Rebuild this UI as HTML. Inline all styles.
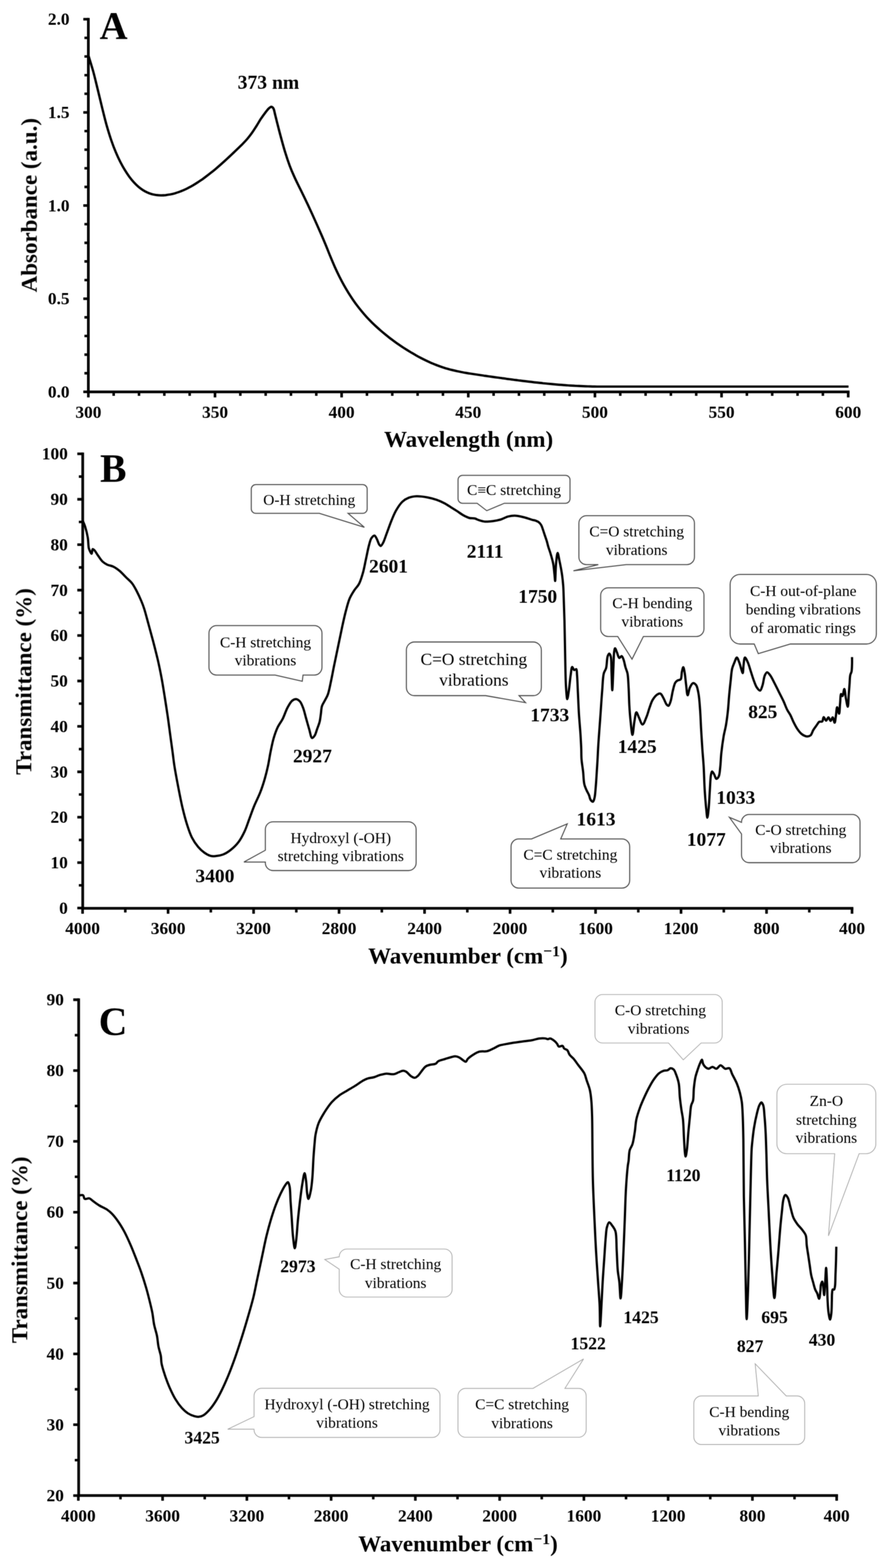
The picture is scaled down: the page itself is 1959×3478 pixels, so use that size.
<!DOCTYPE html>
<html lang="en"><head><meta charset="utf-8"><title>UV-Vis and FTIR spectra</title>
<style>html,body{margin:0;padding:0;background:#fff}svg{display:block}</style></head>
<body>
<svg width="1959" height="3478" viewBox="0 0 1959 3478">
<rect width="1959" height="3478" fill="#fff"/>
<defs><filter id="soft" x="0" y="0" width="1959" height="3478" filterUnits="userSpaceOnUse" color-interpolation-filters="sRGB"><feConvolveMatrix order="3" kernelMatrix="1 2 1 2 4 2 1 2 1" divisor="16" edgeMode="duplicate" preserveAlpha="false"/></filter></defs>
<g filter="url(#soft)" font-family="'Liberation Serif', serif" fill="#000">
<path d="M187.3 827.9H196.0M187.3 786.6H196.0M187.3 745.2H196.0M187.3 703.9H196.0M187.3 621.2H196.0M187.3 579.9H196.0M187.3 538.6H196.0M187.3 497.3H196.0M187.3 414.6H196.0M187.3 373.3H196.0M187.3 332.0H196.0M187.3 290.7H196.0M187.3 208.0H196.0M187.3 166.7H196.0M187.3 125.3H196.0M187.3 84.0H196.0M252.2 869.2V877.9M308.4 869.2V877.9M364.6 869.2V877.9M420.8 869.2V877.9M533.2 869.2V877.9M589.4 869.2V877.9M645.5 869.2V877.9M701.7 869.2V877.9M814.1 869.2V877.9M870.3 869.2V877.9M926.5 869.2V877.9M982.7 869.2V877.9M1095.1 869.2V877.9M1151.3 869.2V877.9M1207.5 869.2V877.9M1263.7 869.2V877.9M1376.1 869.2V877.9M1432.3 869.2V877.9M1488.4 869.2V877.9M1544.6 869.2V877.9M1657.0 869.2V877.9M1713.2 869.2V877.9M1769.4 869.2V877.9M1825.6 869.2V877.9" stroke="#000" stroke-width="5.6" fill="none"/>
<path d="M184.8 869.2H196.0M184.8 662.6H196.0M184.8 455.9H196.0M184.8 249.3H196.0M184.8 42.7H196.0M196.0 869.2V881.6M477.0 869.2V881.6M757.9 869.2V881.6M1038.9 869.2V881.6M1319.9 869.2V881.6M1600.8 869.2V881.6M1881.8 869.2V881.6" stroke="#000" stroke-width="5.8" fill="none"/>
<path d="M196.0 42.7V869.2H1881.8" stroke="#000" stroke-width="6" fill="none" stroke-linejoin="miter" stroke-linecap="square"/>
<text x="154.3" y="881.8" font-size="38.5" text-anchor="end" font-weight="bold">0.0</text>
<text x="154.3" y="675.2" font-size="38.5" text-anchor="end" font-weight="bold">0.5</text>
<text x="154.3" y="468.6" font-size="38.5" text-anchor="end" font-weight="bold">1.0</text>
<text x="154.3" y="261.9" font-size="38.5" text-anchor="end" font-weight="bold">1.5</text>
<text x="154.3" y="55.3" font-size="38.5" text-anchor="end" font-weight="bold">2.0</text>
<text x="196.0" y="926.5" font-size="38.5" text-anchor="middle" font-weight="bold">300</text>
<text x="477.0" y="926.5" font-size="38.5" text-anchor="middle" font-weight="bold">350</text>
<text x="757.9" y="926.5" font-size="38.5" text-anchor="middle" font-weight="bold">400</text>
<text x="1038.9" y="926.5" font-size="38.5" text-anchor="middle" font-weight="bold">450</text>
<text x="1319.9" y="926.5" font-size="38.5" text-anchor="middle" font-weight="bold">500</text>
<text x="1600.8" y="926.5" font-size="38.5" text-anchor="middle" font-weight="bold">550</text>
<text x="1881.8" y="926.5" font-size="38.5" text-anchor="middle" font-weight="bold">600</text>
<text x="1039.6" y="990.6" font-size="51" text-anchor="middle" font-weight="bold">Wavelength (nm)</text>
<text transform="translate(81.5 455.2) rotate(-90)" font-size="51" text-anchor="middle" font-weight="bold">Absorbance (a.u.)</text>
<text x="221.0" y="85.5" font-size="86" text-anchor="start" font-weight="bold">A</text>
<path d="M174.9 1963.8H183.5M174.9 1863.1H183.5M174.9 1762.3H183.5M174.9 1661.6H183.5M174.9 1560.8H183.5M174.9 1460.1H183.5M174.9 1359.3H183.5M174.9 1258.6H183.5M174.9 1157.8H183.5M174.9 1057.1H183.5M278.0 2014.8V2024.0M467.7 2014.8V2024.0M657.4 2014.8V2024.0M847.1 2014.8V2024.0M1036.8 2014.8V2024.0M1226.4 2014.8V2024.0M1416.1 2014.8V2024.0M1605.8 2014.8V2024.0M1795.5 2014.8V2024.0" stroke="#000" stroke-width="5.6" fill="none"/>
<path d="M171.5 2014.2H183.5M171.5 1913.4H183.5M171.5 1812.7H183.5M171.5 1712.0H183.5M171.5 1611.2H183.5M171.5 1510.5H183.5M171.5 1409.7H183.5M171.5 1309.0H183.5M171.5 1208.2H183.5M171.5 1107.5H183.5M171.5 1006.7H183.5M183.2 2014.8V2026.8M372.9 2014.8V2026.8M562.6 2014.8V2026.8M752.2 2014.8V2026.8M941.9 2014.8V2026.8M1131.6 2014.8V2026.8M1321.3 2014.8V2026.8M1510.9 2014.8V2026.8M1700.6 2014.8V2026.8M1890.3 2014.8V2026.8" stroke="#000" stroke-width="5.8" fill="none"/>
<path d="M183.5 1006.7V2014.8H1890.3" stroke="#000" stroke-width="6" fill="none" stroke-linejoin="miter" stroke-linecap="square"/>
<text x="150.5" y="2026.8" font-size="38.5" text-anchor="end" font-weight="bold">0</text>
<text x="150.5" y="1926.0" font-size="38.5" text-anchor="end" font-weight="bold">10</text>
<text x="150.5" y="1825.3" font-size="38.5" text-anchor="end" font-weight="bold">20</text>
<text x="150.5" y="1724.5" font-size="38.5" text-anchor="end" font-weight="bold">30</text>
<text x="150.5" y="1623.8" font-size="38.5" text-anchor="end" font-weight="bold">40</text>
<text x="150.5" y="1523.0" font-size="38.5" text-anchor="end" font-weight="bold">50</text>
<text x="150.5" y="1422.3" font-size="38.5" text-anchor="end" font-weight="bold">60</text>
<text x="150.5" y="1321.5" font-size="38.5" text-anchor="end" font-weight="bold">70</text>
<text x="150.5" y="1220.8" font-size="38.5" text-anchor="end" font-weight="bold">80</text>
<text x="150.5" y="1120.0" font-size="38.5" text-anchor="end" font-weight="bold">90</text>
<text x="150.5" y="1019.3" font-size="38.5" text-anchor="end" font-weight="bold">100</text>
<text x="183.2" y="2072.3" font-size="38.5" text-anchor="middle" font-weight="bold">4000</text>
<text x="372.9" y="2072.3" font-size="38.5" text-anchor="middle" font-weight="bold">3600</text>
<text x="562.6" y="2072.3" font-size="38.5" text-anchor="middle" font-weight="bold">3200</text>
<text x="752.2" y="2072.3" font-size="38.5" text-anchor="middle" font-weight="bold">2800</text>
<text x="941.9" y="2072.3" font-size="38.5" text-anchor="middle" font-weight="bold">2400</text>
<text x="1131.6" y="2072.3" font-size="38.5" text-anchor="middle" font-weight="bold">2000</text>
<text x="1321.3" y="2072.3" font-size="38.5" text-anchor="middle" font-weight="bold">1600</text>
<text x="1510.9" y="2072.3" font-size="38.5" text-anchor="middle" font-weight="bold">1200</text>
<text x="1700.6" y="2072.3" font-size="38.5" text-anchor="middle" font-weight="bold">800</text>
<text x="1890.3" y="2072.3" font-size="38.5" text-anchor="middle" font-weight="bold">400</text>
<text x="1038.0" y="2136.5" font-size="51" text-anchor="middle" font-weight="bold">Wavenumber (cm<tspan font-size="34.7" dy="-15.6">−1</tspan><tspan dy="15.6">)</tspan></text>
<text transform="translate(69.3 1511.6) rotate(-90)" font-size="51" text-anchor="middle" font-weight="bold">Transmittance (%)</text>
<text x="222.0" y="1067.5" font-size="88" text-anchor="start" font-weight="bold">B</text>
<path d="M165.9 3238.7H174.5M165.9 3081.6H174.5M165.9 2924.5H174.5M165.9 2767.4H174.5M165.9 2610.3H174.5M165.9 2453.2H174.5M165.9 2296.1H174.5M267.3 3317.3V3325.8M454.2 3317.3V3325.8M641.1 3317.3V3325.8M828.1 3317.3V3325.8M1015.0 3317.3V3325.8M1201.9 3317.3V3325.8M1388.9 3317.3V3325.8M1575.8 3317.3V3325.8M1762.7 3317.3V3325.8" stroke="#000" stroke-width="5.6" fill="none"/>
<path d="M162.5 3317.3H174.5M162.5 3160.2H174.5M162.5 3003.1H174.5M162.5 2846.0H174.5M162.5 2688.8H174.5M162.5 2531.7H174.5M162.5 2374.6H174.5M162.5 2217.5H174.5M173.8 3317.3V3328.8M360.7 3317.3V3328.8M547.7 3317.3V3328.8M734.6 3317.3V3328.8M921.5 3317.3V3328.8M1108.5 3317.3V3328.8M1295.4 3317.3V3328.8M1482.3 3317.3V3328.8M1669.3 3317.3V3328.8M1856.2 3317.3V3328.8" stroke="#000" stroke-width="5.8" fill="none"/>
<path d="M174.5 2217.5V3317.3H1856.2" stroke="#000" stroke-width="6" fill="none" stroke-linejoin="miter" stroke-linecap="square"/>
<text x="141.8" y="3329.9" font-size="38.5" text-anchor="end" font-weight="bold">20</text>
<text x="141.8" y="3172.8" font-size="38.5" text-anchor="end" font-weight="bold">30</text>
<text x="141.8" y="3015.7" font-size="38.5" text-anchor="end" font-weight="bold">40</text>
<text x="141.8" y="2858.6" font-size="38.5" text-anchor="end" font-weight="bold">50</text>
<text x="141.8" y="2701.4" font-size="38.5" text-anchor="end" font-weight="bold">60</text>
<text x="141.8" y="2544.3" font-size="38.5" text-anchor="end" font-weight="bold">70</text>
<text x="141.8" y="2387.2" font-size="38.5" text-anchor="end" font-weight="bold">80</text>
<text x="141.8" y="2230.1" font-size="38.5" text-anchor="end" font-weight="bold">90</text>
<text x="173.8" y="3375.3" font-size="38.5" text-anchor="middle" font-weight="bold">4000</text>
<text x="360.7" y="3375.3" font-size="38.5" text-anchor="middle" font-weight="bold">3600</text>
<text x="547.7" y="3375.3" font-size="38.5" text-anchor="middle" font-weight="bold">3200</text>
<text x="734.6" y="3375.3" font-size="38.5" text-anchor="middle" font-weight="bold">2800</text>
<text x="921.5" y="3375.3" font-size="38.5" text-anchor="middle" font-weight="bold">2400</text>
<text x="1108.5" y="3375.3" font-size="38.5" text-anchor="middle" font-weight="bold">2000</text>
<text x="1295.4" y="3375.3" font-size="38.5" text-anchor="middle" font-weight="bold">1600</text>
<text x="1482.3" y="3375.3" font-size="38.5" text-anchor="middle" font-weight="bold">1200</text>
<text x="1669.3" y="3375.3" font-size="38.5" text-anchor="middle" font-weight="bold">800</text>
<text x="1856.2" y="3375.3" font-size="38.5" text-anchor="middle" font-weight="bold">400</text>
<text x="1016.0" y="3441.0" font-size="51" text-anchor="middle" font-weight="bold">Wavenumber (cm<tspan font-size="34.7" dy="-15.6">−1</tspan><tspan dy="15.6">)</tspan></text>
<text transform="translate(60.3 2772.3) rotate(-90)" font-size="51" text-anchor="middle" font-weight="bold">Transmittance (%)</text>
<text x="219.0" y="2294.5" font-size="88" text-anchor="start" font-weight="bold">C</text>
<path d="M196.5 124.1C199.9 135.3 203.3 145.9 206.6 157.6C210.1 170.3 213.3 184.1 216.6 197.6C220.0 211.4 223.3 225.8 226.7 239.5C230.0 252.8 233.2 266.1 236.7 278.5C240.0 289.9 243.3 300.8 246.8 311.0C250.0 320.4 253.3 329.2 256.9 337.5C260.1 345.1 263.4 352.3 266.9 359.1C270.2 365.5 273.5 371.5 277.0 377.2C280.2 382.5 283.6 387.5 287.0 392.2C290.3 396.6 293.6 400.7 297.1 404.5C300.3 408.0 303.7 411.3 307.1 414.2C310.4 417.0 313.8 419.5 317.2 421.7C320.5 423.8 323.9 425.6 327.3 427.1C330.6 428.6 333.9 429.7 337.3 430.7C340.6 431.6 344.0 432.2 347.4 432.7C350.7 433.1 354.1 433.3 357.4 433.3C360.8 433.3 364.2 433.1 367.5 432.8C370.9 432.4 374.2 431.9 377.6 431.3C380.9 430.6 384.3 429.8 387.6 428.9C391.0 427.9 394.3 426.8 397.7 425.6C401.1 424.4 404.4 423.0 407.7 421.6C411.1 420.1 414.5 418.5 417.8 416.7C421.2 415.0 424.5 413.2 427.9 411.2C431.2 409.3 434.6 407.2 437.9 405.0C441.3 402.9 444.6 400.6 448.0 398.3C451.3 395.9 454.7 393.5 458.0 390.9C461.4 388.4 464.8 385.8 468.1 383.1C471.5 380.4 474.8 377.7 478.2 374.9C481.5 372.1 484.9 369.2 488.2 366.3C491.6 363.3 494.9 360.3 498.3 357.3C501.6 354.2 505.0 351.1 508.3 348.0C511.7 344.9 515.0 341.7 518.4 338.5C521.7 335.4 525.1 332.1 528.4 328.9C531.8 325.6 535.2 322.4 538.5 319.0C541.9 315.5 545.3 311.9 548.6 308.1C552.0 304.1 555.4 299.8 558.6 295.3C562.1 290.5 565.4 285.2 568.7 280.0C572.1 274.7 575.3 268.9 578.7 263.7C582.0 258.8 585.7 253.6 588.8 249.6C591.2 246.5 593.4 243.4 595.4 241.4C596.7 240.0 597.8 239.1 599.0 238.3C600.0 237.7 601.0 236.9 602.0 236.9C603.0 236.9 604.0 237.6 604.8 238.3C605.7 239.1 606.3 239.9 607.0 241.4C608.3 244.1 609.2 249.4 610.3 253.8C611.6 258.9 613.0 264.6 614.4 270.3C616.0 276.6 617.3 282.0 619.4 290.0C622.7 302.5 628.4 323.8 632.7 337.8C636.1 348.9 639.2 358.2 642.7 367.6C645.9 376.1 649.3 384.0 652.8 391.7C656.0 399.0 659.4 405.7 662.8 412.6C666.1 419.4 669.5 426.0 672.8 432.8C676.2 439.7 679.5 446.7 682.8 453.7C686.2 460.9 689.5 468.2 692.9 475.5C696.2 482.9 699.6 490.3 702.9 497.8C706.2 505.3 709.6 512.8 712.9 520.4C716.3 528.2 719.6 536.1 722.9 544.1C726.3 552.3 729.6 560.9 733.0 569.1C736.3 577.1 739.6 585.0 743.0 592.6C746.3 599.8 749.6 606.8 753.0 613.6C756.3 620.1 759.6 626.4 763.0 632.5C766.3 638.4 769.7 644.1 773.1 649.6C776.4 654.8 779.7 660.0 783.1 664.9C786.4 669.7 789.7 674.3 793.1 678.8C796.4 683.2 799.8 687.3 803.2 691.4C806.5 695.4 809.8 699.2 813.2 702.9C816.5 706.5 819.8 709.9 823.2 713.3C826.5 716.7 829.9 719.9 833.2 723.0C836.6 726.1 839.9 729.1 843.3 732.1C846.6 735.0 849.9 737.8 853.3 740.6C856.6 743.3 860.0 746.0 863.3 748.6C866.6 751.2 870.0 753.7 873.3 756.2C876.7 758.6 880.0 761.0 883.4 763.4C886.7 765.7 890.0 767.9 893.4 770.1C896.7 772.3 900.1 774.4 903.4 776.5C906.8 778.6 910.1 780.6 913.4 782.6C916.8 784.6 920.1 786.5 923.5 788.4C926.8 790.3 930.1 792.1 933.5 793.9C936.8 795.6 940.2 797.3 943.5 798.9C946.9 800.6 950.2 802.1 953.6 803.6C956.9 805.1 960.2 806.6 963.6 807.9C966.9 809.3 970.3 810.6 973.6 811.8C976.9 813.0 980.3 814.2 983.6 815.2C987.0 816.3 990.3 817.3 993.7 818.2C997.0 819.2 1000.3 820.1 1003.7 820.9C1007.0 821.7 1010.4 822.5 1013.7 823.2C1017.1 824.0 1020.4 824.6 1023.7 825.3C1027.1 825.9 1030.4 826.6 1033.8 827.1C1037.1 827.7 1040.5 828.3 1043.8 828.8C1047.1 829.3 1050.5 829.8 1053.8 830.3C1057.2 830.8 1060.5 831.3 1063.9 831.8C1067.2 832.3 1070.5 832.8 1073.9 833.3C1077.2 833.7 1080.6 834.2 1083.9 834.7C1087.2 835.2 1090.6 835.6 1093.9 836.1C1097.3 836.6 1100.6 837.0 1104.0 837.5C1107.3 838.0 1110.6 838.4 1114.0 838.9C1117.3 839.3 1120.7 839.8 1124.0 840.3C1127.4 840.7 1130.7 841.2 1134.0 841.6C1137.4 842.0 1140.7 842.5 1144.1 842.9C1147.4 843.3 1150.7 843.8 1154.1 844.2C1157.4 844.6 1160.8 845.0 1164.1 845.4C1167.5 845.8 1170.8 846.2 1174.1 846.6C1177.5 847.0 1180.8 847.4 1184.2 847.8C1187.5 848.2 1190.9 848.5 1194.2 848.9C1197.5 849.3 1200.9 849.6 1204.2 850.0C1207.6 850.3 1210.9 850.7 1214.3 851.0C1217.6 851.3 1220.9 851.6 1224.3 851.9C1227.6 852.2 1231.0 852.5 1234.3 852.8C1237.6 853.1 1241.0 853.4 1244.3 853.6C1247.7 853.9 1251.0 854.2 1254.4 854.4C1257.7 854.6 1261.0 854.9 1264.4 855.1C1267.7 855.3 1271.1 855.5 1274.4 855.7C1277.8 855.9 1281.1 856.1 1284.4 856.2C1287.8 856.4 1291.1 856.5 1294.5 856.7C1297.8 856.8 1301.2 856.9 1304.5 857.0C1307.8 857.1 1311.2 857.2 1314.5 857.3C1317.9 857.4 1321.2 857.4 1324.5 857.5C1327.9 857.5 1331.2 857.5 1334.6 857.5C1337.9 857.5 1339.3 857.5 1344.6 857.5C1365.6 857.5 1436.7 857.5 1500.0 857.5C1599.3 857.5 1755.0 857.5 1882.5 857.5" fill="none" stroke="#000" stroke-width="5.2" stroke-linejoin="round" stroke-linecap="butt"/>
<path d="M184.0 1156.0C185.6 1160.0 187.3 1163.2 188.8 1168.0C190.9 1174.6 193.3 1184.0 194.7 1192.1C196.1 1200.1 195.7 1210.7 197.1 1216.2C197.9 1219.3 198.8 1221.0 199.9 1223.1C200.9 1225.0 202.4 1228.5 203.3 1228.3C204.5 1228.1 204.2 1218.4 205.7 1217.9C206.8 1217.5 208.7 1219.8 210.2 1221.4C212.4 1223.8 214.5 1228.1 217.1 1231.7C220.1 1236.0 223.6 1241.9 227.4 1245.5C230.6 1248.5 233.9 1250.5 237.8 1252.4C242.0 1254.4 247.2 1254.7 251.6 1256.9C256.3 1259.2 260.9 1262.6 265.3 1266.2C270.1 1270.2 274.5 1275.4 279.1 1280.0C283.7 1284.6 288.9 1288.6 292.9 1293.7C297.0 1298.9 299.9 1304.8 303.2 1311.0C306.8 1317.9 310.7 1326.5 313.6 1333.4C316.1 1339.3 317.7 1343.4 319.8 1349.9C322.8 1359.1 326.0 1372.0 329.2 1383.6C332.6 1395.9 336.1 1408.6 339.5 1421.5C343.0 1435.0 346.7 1449.0 349.9 1462.8C353.1 1476.6 355.9 1490.4 358.5 1504.2C361.1 1517.9 363.1 1531.4 365.4 1545.5C367.7 1560.1 370.2 1576.0 372.3 1590.3C374.2 1603.5 375.7 1615.6 377.4 1628.2C379.1 1640.8 380.9 1653.8 382.6 1666.1C384.2 1677.7 385.1 1687.5 387.1 1699.9C389.5 1715.2 393.3 1734.7 396.4 1750.8C399.2 1765.3 401.8 1778.8 405.0 1792.2C408.1 1805.2 411.6 1818.6 415.3 1830.1C418.5 1840.1 421.4 1849.3 425.7 1857.6C429.6 1865.2 434.5 1872.5 439.5 1878.3C443.8 1883.4 448.4 1887.7 453.2 1891.1C457.6 1894.2 462.6 1897.1 467.0 1898.3C470.6 1899.3 473.5 1899.3 477.4 1899.0C482.4 1898.7 489.0 1897.7 494.6 1895.5C500.5 1893.2 506.3 1889.5 511.8 1885.2C517.8 1880.5 524.0 1874.6 529.0 1868.0C534.4 1861.0 538.8 1852.4 542.8 1843.9C546.9 1835.2 549.7 1825.5 553.2 1816.3C556.6 1807.1 559.7 1798.1 563.5 1788.7C567.6 1778.6 573.3 1768.1 577.3 1757.7C581.3 1747.5 584.7 1736.8 587.6 1726.7C590.3 1717.3 592.5 1708.5 594.5 1699.1C596.6 1689.3 598.0 1679.0 600.0 1669.0C602.1 1658.9 604.1 1648.1 606.8 1638.6C609.3 1630.0 611.9 1622.1 615.4 1614.5C618.8 1607.2 623.8 1601.1 627.5 1593.8C631.3 1586.2 634.0 1576.7 637.8 1569.7C641.0 1563.8 644.4 1557.3 648.2 1554.2C650.9 1552.0 654.0 1550.5 656.8 1550.7C659.7 1550.9 663.0 1553.3 665.4 1555.9C668.4 1559.1 670.2 1564.4 672.3 1569.7C675.0 1576.5 676.9 1585.8 679.2 1593.8C681.5 1601.8 683.8 1610.4 686.1 1617.9C688.2 1624.6 689.6 1636.2 692.3 1636.9C694.0 1637.4 696.5 1634.1 698.1 1631.7C700.4 1628.4 701.5 1622.8 703.3 1617.9C705.2 1612.5 707.8 1606.5 709.2 1600.7C710.6 1595.0 711.0 1589.2 711.9 1583.4C712.7 1577.7 712.7 1571.3 714.3 1566.2C715.7 1561.7 718.4 1558.3 720.5 1554.2C722.8 1549.8 725.4 1546.0 727.4 1540.4C730.2 1532.6 732.1 1521.3 734.3 1511.1C736.7 1500.1 738.7 1488.6 741.2 1476.6C743.9 1463.4 746.9 1449.1 749.8 1435.3C752.7 1421.5 755.5 1407.4 758.4 1393.9C761.2 1381.0 764.0 1367.7 767.1 1356.0C769.8 1345.8 772.2 1335.8 775.7 1327.5C778.7 1320.6 782.4 1314.8 786.0 1309.3C789.3 1304.3 793.3 1301.0 796.3 1295.5C799.9 1288.8 802.5 1280.0 805.0 1271.3C807.8 1261.7 809.6 1250.6 811.9 1240.3C814.2 1230.0 816.3 1217.8 818.7 1209.3C820.4 1203.2 821.4 1197.5 823.9 1193.8C825.8 1191.1 828.8 1187.7 830.8 1188.0C832.8 1188.3 834.4 1192.6 836.0 1195.5C837.9 1199.0 839.3 1204.9 841.1 1207.6C842.2 1209.2 843.4 1211.1 844.6 1211.0C846.2 1210.9 848.1 1207.3 849.8 1204.2C852.7 1199.0 855.4 1189.7 858.4 1181.8C861.7 1173.1 865.1 1162.9 868.7 1154.2C872.0 1146.3 874.9 1138.8 879.0 1131.8C883.0 1125.0 887.7 1117.6 892.8 1112.8C897.0 1108.8 901.5 1106.2 906.6 1104.2C911.8 1102.1 917.6 1101.1 923.8 1100.8C931.2 1100.4 940.3 1101.8 948.0 1103.2C955.2 1104.5 962.1 1106.4 968.6 1108.7C974.7 1110.8 980.5 1113.5 985.9 1116.3C990.9 1118.9 995.3 1122.0 1000.0 1124.9C1004.6 1127.8 1009.2 1130.5 1013.8 1133.5C1018.4 1136.5 1022.9 1140.2 1027.6 1142.8C1032.1 1145.3 1036.9 1147.8 1041.4 1149.0C1045.4 1150.0 1049.8 1149.1 1053.4 1150.0C1056.6 1150.8 1058.8 1152.4 1062.0 1153.5C1066.0 1154.8 1070.9 1156.5 1075.8 1156.9C1081.2 1157.4 1087.3 1156.6 1093.0 1155.9C1098.8 1155.2 1104.6 1154.2 1110.3 1152.5C1116.1 1150.8 1121.7 1147.0 1127.5 1145.6C1133.1 1144.2 1139.0 1143.6 1144.7 1143.9C1150.5 1144.2 1156.2 1145.9 1162.0 1147.3C1168.0 1148.8 1175.1 1151.5 1180.0 1152.8C1183.3 1153.7 1185.7 1153.9 1188.3 1154.8C1190.7 1155.7 1192.9 1156.6 1194.9 1158.1C1197.1 1159.8 1199.1 1162.1 1200.7 1164.7C1202.5 1167.7 1203.5 1171.8 1204.8 1175.5C1206.2 1179.5 1207.5 1183.8 1208.9 1187.9C1210.3 1192.0 1211.8 1196.1 1213.1 1200.3C1214.3 1204.4 1215.1 1208.5 1216.4 1212.7C1217.7 1217.2 1219.4 1221.3 1221.0 1226.6C1223.1 1233.5 1225.9 1242.6 1227.4 1250.7C1228.9 1258.7 1229.4 1267.9 1230.2 1274.8C1230.8 1280.0 1231.2 1288.6 1231.6 1288.6C1232.3 1288.6 1232.5 1261.9 1233.6 1250.7C1234.5 1241.7 1235.7 1226.7 1237.1 1226.6C1238.3 1226.5 1239.8 1237.4 1241.2 1243.8C1242.9 1251.9 1245.0 1262.1 1246.4 1271.3C1247.8 1280.5 1248.8 1289.8 1249.5 1298.9C1250.2 1307.7 1250.2 1314.8 1250.6 1325.0C1251.1 1339.3 1251.8 1357.3 1252.3 1376.7C1253.0 1401.8 1253.4 1436.4 1254.0 1462.8C1254.5 1485.2 1254.7 1508.7 1255.8 1524.9C1256.5 1535.4 1257.4 1550.7 1258.5 1550.7C1259.5 1550.7 1260.9 1539.1 1262.0 1531.8C1263.5 1522.0 1264.6 1506.9 1266.1 1497.3C1267.2 1490.3 1267.7 1479.8 1269.5 1479.4C1270.7 1479.2 1272.3 1485.8 1274.0 1486.3C1275.4 1486.7 1277.4 1483.6 1278.5 1484.2C1280.2 1485.2 1279.7 1491.9 1280.2 1497.3C1281.0 1506.1 1281.3 1519.1 1281.9 1531.8C1282.7 1547.3 1283.4 1566.8 1284.4 1583.4C1285.4 1598.9 1286.9 1614.5 1287.8 1628.2C1288.5 1639.7 1289.1 1650.1 1289.5 1660.0C1289.9 1668.7 1289.5 1676.1 1290.2 1684.5C1290.9 1693.4 1292.7 1702.8 1293.7 1712.0C1294.7 1721.2 1294.6 1732.1 1296.4 1739.6C1297.7 1745.1 1299.7 1749.2 1301.6 1753.4C1303.2 1757.1 1305.4 1760.2 1306.8 1763.7C1308.2 1767.1 1308.5 1771.5 1310.2 1774.0C1311.6 1776.0 1314.0 1778.5 1315.4 1778.2C1317.0 1777.8 1317.9 1773.9 1318.8 1770.6C1320.4 1764.9 1320.8 1755.3 1321.6 1746.5C1322.6 1736.0 1323.3 1722.9 1324.0 1712.0C1324.6 1702.3 1325.2 1694.0 1325.7 1684.5C1326.3 1674.2 1326.6 1664.7 1327.4 1652.4C1328.4 1635.8 1330.2 1613.6 1331.6 1593.8C1333.1 1573.4 1334.5 1549.9 1336.0 1531.8C1337.2 1517.6 1337.2 1502.9 1339.5 1493.9C1340.8 1488.6 1343.4 1486.7 1344.7 1481.8C1346.6 1474.9 1346.2 1461.5 1348.1 1455.9C1349.1 1453.0 1350.4 1449.7 1351.6 1449.7C1352.7 1449.7 1354.1 1452.9 1355.0 1455.9C1356.9 1462.6 1356.2 1478.4 1356.7 1490.4C1357.3 1503.4 1357.7 1531.1 1358.4 1531.1C1359.1 1531.1 1360.1 1495.4 1360.9 1480.1C1361.5 1467.5 1361.5 1452.9 1362.6 1445.6C1363.1 1442.1 1363.7 1438.1 1364.6 1438.0C1365.7 1437.9 1367.3 1444.0 1368.8 1447.3C1370.5 1451.1 1371.9 1458.9 1374.0 1459.4C1375.5 1459.8 1377.6 1455.0 1379.1 1455.3C1380.8 1455.6 1382.1 1459.7 1383.3 1462.8C1385.1 1467.3 1386.1 1474.7 1387.7 1480.1C1389.1 1485.0 1391.1 1488.3 1392.2 1493.9C1393.8 1502.1 1393.9 1513.8 1394.6 1524.9C1395.4 1537.7 1395.5 1553.1 1396.3 1566.2C1397.0 1578.2 1397.9 1589.7 1399.1 1600.7C1400.2 1610.9 1401.8 1630.0 1403.2 1630.0C1404.6 1630.0 1405.8 1609.6 1407.4 1600.7C1408.8 1593.2 1409.9 1580.2 1411.9 1580.0C1413.3 1579.8 1415.1 1586.5 1417.0 1590.3C1419.5 1595.2 1422.7 1606.9 1425.6 1606.9C1428.5 1606.9 1431.8 1596.2 1434.3 1590.3C1437.0 1583.9 1438.7 1576.2 1441.1 1569.7C1443.3 1563.6 1444.9 1557.4 1448.0 1552.4C1450.8 1547.8 1455.0 1542.5 1458.4 1540.4C1460.7 1539.0 1463.2 1537.8 1465.3 1538.6C1468.0 1539.6 1470.0 1545.2 1472.2 1549.0C1474.6 1553.2 1476.6 1560.1 1479.0 1562.8C1480.4 1564.3 1482.0 1565.9 1483.2 1565.5C1485.0 1565.0 1486.4 1559.9 1487.7 1555.9C1489.8 1549.8 1490.9 1539.1 1492.8 1531.8C1494.4 1525.5 1495.7 1518.4 1498.0 1514.5C1499.5 1512.0 1501.2 1510.7 1503.2 1509.4C1505.2 1508.1 1508.5 1508.9 1510.1 1506.9C1512.5 1504.0 1511.7 1495.2 1512.8 1490.4C1513.7 1486.5 1514.9 1480.1 1515.9 1480.1C1516.9 1480.1 1517.9 1486.1 1518.7 1490.4C1520.1 1497.3 1520.9 1509.1 1522.1 1518.0C1523.2 1526.3 1524.0 1542.0 1525.6 1542.1C1527.0 1542.2 1528.4 1529.7 1530.7 1524.9C1532.6 1521.0 1535.0 1515.7 1537.6 1515.2C1539.7 1514.8 1542.7 1517.2 1544.5 1519.7C1547.3 1523.6 1548.3 1531.3 1549.7 1538.6C1551.5 1548.3 1552.2 1560.8 1553.1 1573.1C1554.2 1587.0 1554.6 1603.0 1555.5 1617.9C1556.4 1632.8 1557.3 1648.5 1558.3 1662.7C1559.2 1675.7 1560.3 1686.4 1561.1 1699.9C1562.1 1716.1 1562.4 1736.7 1563.5 1753.4C1564.4 1768.1 1565.7 1783.6 1566.9 1794.7C1567.7 1802.3 1568.4 1813.7 1569.3 1813.7C1570.2 1813.7 1571.3 1802.3 1572.1 1794.7C1573.3 1783.6 1573.9 1766.5 1574.8 1753.4C1575.6 1741.4 1575.9 1726.2 1577.3 1718.9C1578.0 1715.4 1578.5 1711.5 1579.7 1711.3C1580.8 1711.1 1582.8 1714.9 1584.2 1717.2C1586.0 1720.1 1587.3 1727.2 1589.3 1727.5C1590.9 1727.8 1593.2 1725.0 1594.5 1722.4C1596.8 1718.0 1597.0 1709.3 1597.9 1701.7C1599.0 1692.4 1599.1 1681.5 1600.3 1670.6C1601.6 1658.6 1603.6 1643.9 1605.5 1632.7C1607.1 1623.7 1609.1 1617.2 1610.6 1608.6C1612.3 1598.9 1613.7 1588.1 1614.8 1577.6C1616.0 1566.8 1616.5 1555.7 1617.5 1544.6C1618.5 1533.2 1619.8 1520.9 1621.0 1510.1C1622.1 1500.4 1622.5 1490.1 1624.4 1482.6C1625.8 1477.1 1627.8 1473.0 1629.6 1468.8C1631.2 1465.0 1633.0 1458.4 1634.7 1458.4C1636.4 1458.4 1638.3 1464.8 1639.9 1468.8C1641.9 1473.7 1643.6 1481.6 1645.1 1486.0C1646.1 1488.8 1647.1 1493.0 1647.8 1492.9C1648.9 1492.8 1648.8 1481.4 1649.6 1475.7C1650.4 1469.9 1650.9 1458.7 1652.7 1458.4C1654.2 1458.1 1657.0 1464.6 1658.9 1468.8C1661.5 1474.4 1663.5 1482.6 1665.8 1489.5C1668.1 1496.4 1670.2 1503.8 1672.6 1510.1C1674.8 1515.7 1676.7 1521.8 1679.5 1525.6C1681.5 1528.4 1684.5 1532.2 1686.4 1531.8C1688.6 1531.3 1690.1 1525.0 1691.6 1520.5C1693.7 1514.4 1694.4 1503.3 1696.8 1498.1C1698.3 1494.9 1700.0 1491.3 1701.9 1491.2C1703.9 1491.0 1706.6 1495.1 1708.8 1498.1C1711.8 1502.1 1714.5 1508.0 1717.4 1513.6C1720.8 1520.0 1724.3 1527.4 1727.8 1534.3C1731.2 1541.2 1734.9 1548.0 1738.1 1554.9C1741.2 1561.6 1743.8 1569.3 1746.7 1574.9C1749.0 1579.3 1751.4 1582.1 1753.6 1586.2C1756.1 1590.9 1758.0 1596.6 1760.5 1601.7C1763.1 1606.9 1766.0 1612.7 1769.1 1617.2C1771.8 1621.1 1774.6 1624.8 1777.7 1627.5C1780.4 1629.8 1783.8 1631.8 1786.4 1632.7C1788.3 1633.4 1789.7 1633.6 1791.5 1633.4C1793.7 1633.2 1796.5 1632.7 1798.4 1631.0C1801.0 1628.7 1802.1 1623.1 1804.3 1619.4C1806.6 1615.6 1809.6 1611.7 1812.0 1608.4C1814.0 1605.7 1815.3 1602.3 1817.5 1601.0C1819.4 1599.9 1822.5 1601.6 1824.1 1600.3C1826.1 1598.7 1825.9 1590.9 1827.4 1590.7C1828.9 1590.5 1831.1 1598.4 1832.9 1598.4C1834.6 1598.4 1836.3 1591.3 1837.9 1591.3C1839.6 1591.3 1841.3 1599.0 1842.9 1599.0C1844.5 1599.0 1845.9 1591.2 1847.3 1591.3C1848.9 1591.4 1850.5 1603.0 1851.7 1602.9C1853.0 1602.8 1853.6 1593.3 1854.5 1588.0C1855.5 1582.0 1855.9 1568.8 1857.2 1568.7C1858.3 1568.6 1860.5 1583.1 1861.6 1583.0C1862.9 1582.9 1863.0 1567.4 1863.8 1560.0C1864.5 1553.0 1864.5 1539.9 1866.0 1539.5C1866.8 1539.3 1868.1 1544.2 1869.0 1544.0C1870.6 1543.7 1872.0 1528.1 1873.2 1528.2C1874.5 1528.3 1875.2 1541.4 1876.5 1548.0C1877.8 1554.6 1879.8 1567.7 1880.9 1567.6C1882.2 1567.5 1882.4 1548.1 1883.1 1539.2C1883.7 1531.4 1884.2 1524.3 1884.8 1517.2C1885.3 1510.4 1885.3 1502.3 1886.4 1497.3C1887.1 1494.1 1888.5 1492.7 1889.2 1489.6C1890.1 1485.2 1890.1 1478.5 1890.3 1473.1C1890.5 1467.9 1890.3 1462.8 1890.3 1457.6" fill="none" stroke="#000" stroke-width="5.0" stroke-linejoin="round" stroke-linecap="butt"/>
<path d="M176.5 2651.3C179.1 2651.3 182.5 2650.1 184.4 2651.3C186.4 2652.6 185.8 2658.0 187.9 2659.2C190.2 2660.5 195.1 2657.4 198.2 2658.2C201.4 2659.1 203.6 2662.1 206.8 2664.4C210.8 2667.3 215.7 2671.0 220.6 2674.0C225.9 2677.3 232.9 2680.0 237.8 2683.3C241.9 2686.1 244.7 2688.4 248.2 2692.0C252.7 2696.6 257.6 2702.9 262.0 2709.2C266.8 2716.0 271.3 2723.5 275.7 2731.6C280.5 2740.6 285.0 2750.7 289.5 2760.9C294.3 2771.8 299.1 2784.4 303.3 2795.3C307.0 2805.0 310.3 2813.3 313.6 2822.9C317.2 2833.3 321.0 2845.3 324.0 2855.6C326.7 2864.7 328.7 2872.6 330.9 2881.5C333.3 2891.0 335.9 2901.3 337.8 2911.0C339.6 2920.3 340.2 2929.8 342.0 2938.6C343.7 2947.0 346.6 2954.6 348.2 2962.7C349.8 2970.7 350.1 2979.1 351.6 2986.8C353.0 2994.0 355.6 3000.9 356.8 3007.5C357.8 3013.5 357.3 3018.5 358.5 3024.7C359.9 3032.1 362.7 3040.6 365.4 3048.9C368.3 3057.8 371.7 3067.3 375.7 3076.4C379.8 3085.7 384.5 3095.9 389.5 3104.0C393.8 3111.1 398.4 3117.5 403.3 3122.9C407.7 3127.7 412.3 3131.9 417.1 3135.0C421.5 3137.8 426.6 3140.0 430.9 3141.2C434.5 3142.2 437.8 3142.9 441.2 3142.6C444.7 3142.3 448.1 3141.2 451.6 3139.1C456.1 3136.4 461.0 3131.3 465.3 3126.4C470.2 3120.9 474.7 3114.4 479.1 3107.4C484.0 3099.6 488.5 3090.7 492.9 3081.6C497.7 3071.8 502.2 3061.4 506.7 3050.6C511.5 3039.1 516.0 3026.9 520.5 3014.4C525.2 3001.1 529.8 2987.1 534.3 2973.0C539.0 2958.4 543.5 2943.5 548.0 2928.2C552.7 2912.2 557.9 2894.7 561.8 2879.0C565.3 2864.7 567.5 2852.0 570.6 2837.7C573.9 2822.3 577.5 2805.6 580.9 2789.5C584.4 2773.4 587.6 2756.3 591.3 2741.2C594.6 2727.8 598.0 2715.2 601.6 2703.3C604.9 2692.4 608.3 2681.9 612.0 2672.3C615.3 2663.7 618.7 2655.7 622.3 2648.2C625.6 2641.4 629.3 2633.8 632.6 2629.2C634.7 2626.2 637.2 2622.0 638.8 2622.3C640.4 2622.6 641.4 2627.0 642.3 2630.9C644.1 2638.5 643.9 2653.9 644.7 2665.4C645.5 2676.9 646.3 2687.9 647.1 2699.9C648.0 2713.0 648.6 2728.8 649.9 2741.2C651.0 2751.3 652.7 2768.8 654.0 2768.8C655.2 2768.8 656.4 2756.2 657.4 2748.1C658.8 2736.7 659.6 2720.6 660.9 2706.8C662.2 2693.0 663.8 2678.9 665.4 2665.4C667.0 2652.5 668.6 2638.8 670.5 2627.5C672.1 2618.2 674.2 2602.3 675.7 2602.3C677.0 2602.3 678.3 2613.8 679.2 2620.6C680.3 2628.8 680.4 2641.1 681.6 2648.2C682.3 2652.7 683.2 2659.2 684.3 2659.2C685.7 2659.2 688.1 2648.0 689.5 2641.3C691.2 2633.2 692.0 2624.0 692.9 2613.7C694.1 2600.6 694.5 2582.8 695.4 2568.9C696.2 2556.7 697.2 2544.0 698.1 2534.5C698.7 2527.7 698.8 2523.3 700.0 2517.0C701.5 2509.2 703.7 2499.3 706.9 2491.2C710.0 2483.3 714.3 2476.3 718.9 2468.8C723.9 2460.8 730.0 2451.6 736.1 2444.7C741.5 2438.6 747.4 2433.6 753.4 2429.2C759.0 2425.1 764.9 2422.3 770.6 2418.8C776.3 2415.4 782.1 2412.1 787.8 2408.5C793.6 2404.9 800.0 2400.0 805.1 2397.1C808.9 2395.0 811.6 2393.5 815.4 2392.3C819.6 2390.9 824.6 2390.8 829.2 2389.5C833.9 2388.2 838.3 2385.7 843.0 2384.4C847.6 2383.1 851.9 2381.9 856.8 2381.6C862.2 2381.2 869.1 2383.4 874.0 2382.6C878.0 2382.0 880.8 2379.8 884.3 2378.5C887.7 2377.3 891.6 2375.1 894.7 2375.1C897.2 2375.1 899.2 2376.1 901.6 2377.5C904.9 2379.5 908.4 2384.9 911.9 2387.1C914.7 2388.9 917.9 2390.9 920.5 2390.6C923.0 2390.4 925.1 2388.2 927.4 2386.1C930.3 2383.4 933.1 2378.6 936.0 2375.1C938.8 2371.7 941.4 2367.6 944.6 2365.4C947.3 2363.5 949.9 2363.0 953.2 2362.0C957.2 2360.8 963.7 2361.0 967.0 2359.2C969.4 2357.9 969.8 2355.5 972.2 2354.0C975.8 2351.8 982.7 2350.5 987.7 2348.9C992.4 2347.4 997.4 2345.7 1001.5 2344.7C1004.7 2343.9 1007.2 2342.9 1010.1 2343.0C1013.0 2343.1 1015.9 2344.1 1018.7 2345.4C1021.7 2346.8 1024.6 2349.9 1027.3 2351.6C1029.5 2353.0 1031.8 2355.5 1033.5 2355.1C1035.3 2354.7 1035.7 2351.0 1037.7 2348.9C1040.5 2345.9 1045.4 2342.3 1049.7 2339.6C1054.0 2336.9 1058.5 2334.1 1063.5 2332.7C1068.8 2331.3 1075.4 2332.9 1080.7 2331.6C1085.7 2330.4 1089.9 2327.9 1094.5 2325.8C1099.1 2323.7 1103.3 2320.6 1108.3 2318.9C1113.6 2317.1 1120.7 2316.3 1125.5 2315.4C1129.0 2314.7 1130.8 2314.3 1134.5 2313.7C1140.6 2312.7 1150.9 2311.4 1158.6 2310.3C1165.8 2309.3 1172.7 2308.7 1179.3 2307.5C1185.3 2306.4 1191.0 2304.0 1196.5 2303.4C1201.3 2302.8 1206.9 2302.8 1210.3 2303.4C1212.5 2303.7 1213.7 2305.1 1215.4 2305.1C1217.1 2305.1 1218.6 2303.2 1220.6 2303.4C1223.5 2303.7 1228.2 2307.3 1230.9 2309.6C1233.1 2311.4 1234.6 2313.4 1236.1 2315.4C1237.5 2317.3 1237.8 2320.5 1239.6 2321.3C1241.6 2322.3 1246.2 2318.9 1248.2 2319.9C1250.0 2320.8 1250.0 2324.3 1251.6 2325.8C1253.3 2327.4 1256.6 2327.3 1258.5 2329.2C1260.8 2331.5 1261.4 2336.5 1263.7 2339.6C1266.0 2342.8 1269.4 2344.9 1272.3 2348.2C1275.7 2352.2 1278.9 2357.0 1282.6 2362.0C1286.9 2367.8 1293.2 2374.7 1296.4 2380.9C1299.1 2386.1 1299.7 2390.9 1301.6 2396.4C1303.7 2402.8 1306.8 2409.9 1308.5 2417.1C1310.3 2424.8 1311.1 2432.4 1311.9 2441.2C1312.9 2451.7 1313.2 2462.0 1313.6 2475.7C1314.2 2495.8 1314.1 2525.7 1314.4 2550.0C1314.7 2573.4 1314.7 2594.7 1315.4 2618.9C1316.1 2646.0 1317.7 2678.0 1318.9 2705.1C1320.0 2729.4 1321.0 2751.0 1322.3 2774.0C1323.6 2797.0 1325.4 2821.6 1326.8 2842.9C1328.0 2861.4 1329.5 2877.7 1330.3 2894.6C1331.1 2910.7 1330.8 2942.0 1331.5 2942.0C1332.2 2942.0 1333.5 2910.7 1334.4 2894.6C1335.4 2877.7 1336.1 2860.1 1337.1 2842.9C1338.1 2825.7 1339.4 2808.1 1340.6 2791.2C1341.7 2774.9 1342.8 2755.7 1344.0 2743.0C1344.8 2734.7 1344.9 2728.0 1346.5 2722.3C1347.7 2717.9 1349.5 2711.6 1351.6 2711.3C1353.5 2711.0 1356.3 2715.9 1358.5 2718.9C1361.0 2722.3 1363.7 2725.4 1365.4 2730.9C1368.3 2740.6 1367.3 2759.5 1368.2 2774.0C1369.1 2788.8 1369.4 2806.2 1370.6 2818.8C1371.5 2828.1 1373.0 2834.0 1374.0 2842.9C1375.2 2853.9 1375.8 2880.0 1376.8 2880.0C1377.8 2880.0 1379.0 2857.2 1379.9 2842.9C1381.2 2823.5 1382.3 2797.0 1383.3 2774.0C1384.3 2751.0 1385.2 2728.1 1386.1 2705.1C1387.0 2682.1 1387.5 2657.5 1388.8 2636.2C1389.9 2617.7 1391.7 2594.9 1393.0 2584.5C1393.6 2580.0 1394.1 2578.8 1394.6 2574.9C1395.4 2568.8 1395.2 2558.2 1397.0 2551.5C1398.4 2546.2 1401.5 2543.2 1403.2 2537.7C1405.6 2530.2 1406.9 2519.3 1408.4 2510.1C1409.8 2500.9 1409.9 2491.7 1411.9 2482.6C1413.9 2473.3 1417.3 2463.8 1420.5 2455.0C1423.6 2446.6 1427.3 2438.6 1430.8 2430.9C1434.1 2423.7 1437.5 2416.7 1441.1 2410.2C1444.4 2404.1 1447.8 2398.1 1451.5 2393.0C1454.8 2388.5 1458.1 2384.0 1461.8 2380.9C1465.0 2378.2 1468.8 2376.2 1472.2 2375.1C1475.1 2374.1 1478.2 2375.0 1480.8 2374.0C1483.3 2373.1 1485.3 2369.7 1487.7 2369.5C1489.9 2369.3 1492.7 2370.6 1494.6 2372.3C1496.9 2374.5 1498.1 2378.5 1499.7 2382.6C1501.9 2388.2 1504.5 2395.6 1505.9 2403.3C1507.6 2412.5 1507.3 2424.3 1508.3 2434.3C1509.3 2443.8 1510.6 2453.4 1511.8 2461.9C1512.9 2469.3 1514.3 2474.4 1515.2 2482.6C1516.5 2494.7 1516.8 2513.8 1517.6 2527.4C1518.3 2538.7 1518.8 2551.8 1519.7 2558.4C1520.1 2561.5 1520.6 2565.3 1521.1 2565.3C1521.9 2565.3 1523.0 2557.4 1523.8 2551.5C1525.2 2541.4 1526.1 2523.3 1527.3 2510.1C1528.4 2498.1 1529.6 2486.1 1530.7 2475.7C1531.6 2466.9 1531.9 2457.9 1533.5 2451.6C1534.6 2447.3 1536.6 2445.6 1537.6 2441.2C1539.1 2434.3 1538.5 2422.5 1539.4 2413.6C1540.3 2405.3 1541.2 2396.8 1542.8 2389.5C1544.2 2383.2 1546.2 2377.7 1548.0 2372.3C1549.6 2367.4 1551.3 2362.4 1553.1 2358.5C1554.5 2355.4 1556.2 2350.5 1557.3 2350.6C1558.5 2350.7 1558.6 2357.4 1560.0 2360.2C1561.3 2362.8 1563.1 2365.3 1565.2 2367.1C1567.2 2368.8 1569.7 2370.6 1572.1 2370.6C1574.8 2370.6 1577.8 2366.4 1580.7 2366.4C1583.6 2366.4 1586.5 2370.9 1589.3 2370.6C1592.5 2370.2 1595.4 2363.1 1598.6 2363.0C1601.9 2362.9 1605.4 2369.7 1608.9 2370.6C1611.9 2371.4 1615.7 2368.1 1618.2 2369.5C1621.3 2371.2 1622.0 2377.7 1624.4 2382.6C1627.4 2388.7 1631.8 2396.3 1634.7 2403.3C1637.5 2410.1 1639.7 2417.0 1641.6 2424.0C1643.4 2430.8 1644.8 2437.1 1645.8 2444.7C1647.0 2454.0 1647.3 2464.0 1647.8 2475.7C1648.5 2490.7 1648.8 2506.4 1649.2 2527.4C1649.8 2560.2 1649.7 2613.5 1650.3 2653.4C1650.9 2689.6 1652.0 2722.3 1652.7 2756.8C1653.4 2791.2 1654.0 2829.5 1654.7 2860.1C1655.3 2884.5 1655.7 2926.0 1656.5 2926.0C1657.3 2926.0 1658.7 2884.5 1659.6 2860.1C1660.7 2829.5 1661.5 2791.2 1662.3 2756.8C1663.2 2722.3 1663.8 2687.9 1664.7 2653.4C1665.6 2618.9 1666.5 2567.7 1667.5 2550.0C1667.8 2543.9 1668.0 2542.8 1668.5 2537.7C1669.4 2529.1 1670.8 2514.7 1672.6 2503.2C1674.4 2491.7 1677.1 2478.3 1679.5 2468.8C1681.2 2462.0 1682.6 2455.8 1684.7 2451.6C1686.1 2448.8 1687.8 2445.3 1689.2 2445.3C1690.6 2445.3 1692.2 2448.7 1693.3 2451.6C1695.2 2456.9 1695.3 2466.9 1696.1 2475.7C1697.1 2486.1 1697.9 2498.2 1698.5 2510.1C1699.2 2522.9 1699.5 2534.9 1700.0 2550.0C1700.7 2569.8 1701.1 2595.9 1702.0 2618.9C1702.9 2641.9 1704.3 2664.8 1705.4 2687.8C1706.5 2710.8 1707.5 2733.8 1708.8 2756.8C1710.1 2779.8 1711.6 2804.2 1713.3 2825.7C1714.8 2844.6 1716.5 2879.1 1718.1 2879.1C1719.6 2879.1 1721.1 2843.4 1722.6 2825.7C1724.1 2808.3 1725.7 2791.2 1727.1 2774.0C1728.5 2756.8 1729.8 2737.8 1731.2 2722.3C1732.3 2709.6 1733.5 2698.6 1734.7 2687.8C1735.8 2678.1 1736.3 2667.0 1738.1 2660.3C1739.2 2656.1 1740.5 2650.9 1742.3 2650.6C1743.9 2650.4 1746.2 2653.9 1747.8 2656.8C1750.4 2661.5 1751.6 2670.3 1753.6 2677.5C1755.8 2685.2 1757.5 2694.9 1760.5 2701.6C1762.9 2707.0 1765.9 2711.1 1769.1 2715.4C1772.3 2719.7 1776.4 2723.3 1779.5 2727.5C1782.5 2731.5 1785.8 2735.0 1787.6 2740.0C1789.7 2746.1 1788.9 2754.8 1789.8 2762.1C1790.7 2769.5 1792.0 2776.8 1793.1 2784.1C1794.2 2791.5 1795.3 2798.8 1796.4 2806.2C1797.5 2813.5 1798.3 2821.4 1799.7 2828.2C1800.9 2834.1 1802.6 2839.3 1804.1 2844.7C1805.5 2849.9 1806.8 2855.7 1808.5 2860.0C1809.8 2863.4 1811.5 2865.4 1812.9 2868.6C1814.5 2872.2 1816.1 2880.8 1817.3 2880.7C1818.7 2880.6 1819.4 2868.6 1820.1 2863.1C1820.7 2858.4 1820.3 2853.5 1821.2 2849.8C1821.9 2847.0 1823.2 2842.6 1824.0 2842.7C1824.9 2842.8 1825.6 2848.3 1826.2 2852.1C1827.1 2857.6 1827.7 2872.5 1828.4 2872.5C1829.2 2872.5 1829.9 2855.4 1830.6 2846.0C1831.4 2835.4 1832.1 2812.2 1832.8 2812.2C1833.6 2812.2 1834.4 2839.4 1835.0 2852.1C1835.5 2863.6 1835.5 2874.6 1836.1 2885.1C1836.6 2894.7 1837.1 2905.0 1838.3 2912.7C1839.2 2918.3 1840.6 2927.0 1841.6 2927.0C1842.6 2927.0 1843.7 2918.3 1844.4 2912.7C1845.3 2905.0 1845.2 2893.1 1845.5 2885.1C1845.7 2878.9 1845.5 2873.2 1846.0 2868.6C1846.3 2865.3 1846.2 2860.9 1847.5 2860.0C1848.2 2859.5 1849.7 2861.0 1850.5 2860.5C1851.8 2859.6 1852.1 2855.6 1852.6 2852.1C1853.4 2846.5 1853.2 2838.2 1853.5 2830.0C1853.9 2819.7 1854.5 2806.3 1854.8 2795.1C1855.1 2784.8 1855.2 2775.3 1855.4 2765.4" fill="none" stroke="#000" stroke-width="5.0" stroke-linejoin="round" stroke-linecap="butt"/>
<path d="M567.5 1074.9L804.6 1074.9A10 10 0 0 1 814.6 1084.9L814.6 1128.7A10 10 0 0 1 804.6 1138.7L772.2 1138.7L808.4 1169.7L708.5 1138.7L567.5 1138.7A10 10 0 0 1 557.5 1128.7L557.5 1084.9A10 10 0 0 1 567.5 1074.9Z" fill="#fff" stroke="#4f4f4f" stroke-width="2.3" stroke-linejoin="miter"/>
<text x="686.0" y="1119.7" font-size="34.2" text-anchor="middle" font-weight="normal">O-H stretching</text>
<path d="M1026.2 1054.3L1254.6 1054.3A10 10 0 0 1 1264.6 1064.3L1264.6 1106.3A10 10 0 0 1 1254.6 1116.3L1118.9 1116.3L1079.9 1132.8L1058.6 1116.3L1026.2 1116.3A10 10 0 0 1 1016.2 1106.3L1016.2 1064.3A10 10 0 0 1 1026.2 1054.3Z" fill="#fff" stroke="#4f4f4f" stroke-width="2.3" stroke-linejoin="miter"/>
<text x="1140.4" y="1098.0" font-size="34.2" text-anchor="middle" font-weight="normal">C≡C stretching</text>
<path d="M1301.3 1143.8L1523.7 1143.8A17 17 0 0 1 1540.7 1160.8L1540.7 1235.4A17 17 0 0 1 1523.7 1252.4L1389.4 1252.4L1272.2 1266.2L1327.4 1252.4L1301.3 1252.4A17 17 0 0 1 1284.3 1235.4L1284.3 1160.8A17 17 0 0 1 1301.3 1143.8Z" fill="#fff" stroke="#4f4f4f" stroke-width="2.3" stroke-linejoin="miter"/>
<text x="1412.5" y="1190.4" font-size="34.2" text-anchor="middle" font-weight="normal">C=O stretching</text>
<text x="1412.5" y="1231.0" font-size="34.2" text-anchor="middle" font-weight="normal">vibrations</text>
<path d="M1349.6 1303.8L1544.8 1303.8A17 17 0 0 1 1561.8 1320.8L1561.8 1394.8A17 17 0 0 1 1544.8 1411.8L1427.4 1411.8L1402.2 1462.1L1370.5 1411.8L1349.6 1411.8A17 17 0 0 1 1332.6 1394.8L1332.6 1320.8A17 17 0 0 1 1349.6 1303.8Z" fill="#fff" stroke="#4f4f4f" stroke-width="2.3" stroke-linejoin="miter"/>
<text x="1447.2" y="1349.1" font-size="34.2" text-anchor="middle" font-weight="normal">C-H bending</text>
<text x="1447.2" y="1389.8" font-size="34.2" text-anchor="middle" font-weight="normal">vibrations</text>
<path d="M1641.9 1274.1L1922.2 1274.1A22 22 0 0 1 1944.2 1296.1L1944.2 1406.5A22 22 0 0 1 1922.2 1428.5L1753.6 1428.5L1682.3 1449.8L1673.3 1428.5L1641.9 1428.5A22 22 0 0 1 1619.9 1406.5L1619.9 1296.1A22 22 0 0 1 1641.9 1274.1Z" fill="#fff" stroke="#4f4f4f" stroke-width="2.3" stroke-linejoin="miter"/>
<text x="1782.1" y="1322.3" font-size="34.2" text-anchor="middle" font-weight="normal">C-H out-of-plane</text>
<text x="1782.1" y="1362.6" font-size="34.2" text-anchor="middle" font-weight="normal">bending vibrations</text>
<text x="1782.1" y="1404.0" font-size="34.2" text-anchor="middle" font-weight="normal">of aromatic rings</text>
<path d="M480.6 1387.7L697.3 1387.7A17 17 0 0 1 714.3 1404.7L714.3 1480.3A17 17 0 0 1 697.3 1497.3L672.3 1497.3L670.6 1511.0L610.3 1497.3L480.6 1497.3A17 17 0 0 1 463.6 1480.3L463.6 1404.7A17 17 0 0 1 480.6 1387.7Z" fill="#fff" stroke="#4f4f4f" stroke-width="2.3" stroke-linejoin="miter"/>
<text x="589.0" y="1436.0" font-size="34.2" text-anchor="middle" font-weight="normal">C-H stretching</text>
<text x="589.0" y="1476.0" font-size="34.2" text-anchor="middle" font-weight="normal">vibrations</text>
<path d="M919.6 1424.0L1183.0 1424.0A18 18 0 0 1 1201.0 1442.0L1201.0 1525.0A18 18 0 0 1 1183.0 1543.0L1151.5 1543.0L1166.0 1558.6L1077.4 1543.0L919.6 1543.0A18 18 0 0 1 901.6 1525.0L901.6 1442.0A18 18 0 0 1 919.6 1424.0Z" fill="#fff" stroke="#4f4f4f" stroke-width="2.3" stroke-linejoin="miter"/>
<text x="1051.3" y="1474.9" font-size="38.5" text-anchor="middle" font-weight="normal">C=O stretching</text>
<text x="1051.3" y="1520.7" font-size="38.5" text-anchor="middle" font-weight="normal">vibrations</text>
<path d="M605.7 1822.8L906.2 1822.8A17 17 0 0 1 923.2 1839.8L923.2 1914.0A17 17 0 0 1 906.2 1931.0L605.7 1931.0A17 17 0 0 1 588.7 1914.0L588.7 1912.1L541.2 1912.1L588.7 1885.9L588.7 1839.8A17 17 0 0 1 605.7 1822.8Z" fill="#fff" stroke="#4f4f4f" stroke-width="2.3" stroke-linejoin="miter"/>
<text x="756.0" y="1869.7" font-size="34.2" text-anchor="middle" font-weight="normal">Hydroxyl (-OH)</text>
<text x="756.0" y="1910.0" font-size="34.2" text-anchor="middle" font-weight="normal">stretching vibrations</text>
<path d="M1150.8 1860.9L1179.3 1860.9L1258.5 1827.5L1244.0 1860.9L1380.0 1860.9A17 17 0 0 1 1397.0 1877.9L1397.0 1952.8A17 17 0 0 1 1380.0 1969.8L1150.8 1969.8A17 17 0 0 1 1133.8 1952.8L1133.8 1877.9A17 17 0 0 1 1150.8 1860.9Z" fill="#fff" stroke="#4f4f4f" stroke-width="2.3" stroke-linejoin="miter"/>
<text x="1265.4" y="1906.7" font-size="34.2" text-anchor="middle" font-weight="normal">C=C stretching</text>
<text x="1265.4" y="1947.0" font-size="34.2" text-anchor="middle" font-weight="normal">vibrations</text>
<path d="M1662.1 1806.7L1891.0 1806.7A17 17 0 0 1 1908.0 1823.7L1908.0 1896.5A17 17 0 0 1 1891.0 1913.5L1662.1 1913.5A17 17 0 0 1 1645.1 1896.5L1645.1 1849.8L1618.2 1812.9L1645.1 1824.0L1645.1 1823.7A17 17 0 0 1 1662.1 1806.7Z" fill="#fff" stroke="#4f4f4f" stroke-width="2.3" stroke-linejoin="miter"/>
<text x="1776.5" y="1851.5" font-size="34.2" text-anchor="middle" font-weight="normal">C-O stretching</text>
<text x="1776.5" y="1892.2" font-size="34.2" text-anchor="middle" font-weight="normal">vibrations</text>
<path d="M1337.0 2206.0L1585.3 2206.0A17 17 0 0 1 1602.3 2223.0L1602.3 2296.5A17 17 0 0 1 1585.3 2313.5L1555.5 2313.5L1515.9 2350.9L1483.2 2313.5L1337.0 2313.5A17 17 0 0 1 1320.0 2296.5L1320.0 2223.0A17 17 0 0 1 1337.0 2206.0Z" fill="#fff" stroke="#a6a6a6" stroke-width="1.7" stroke-linejoin="miter"/>
<text x="1465.2" y="2252.4" font-size="34.2" text-anchor="middle" font-weight="normal">C-O stretching</text>
<text x="1461.2" y="2293.0" font-size="34.2" text-anchor="middle" font-weight="normal">vibrations</text>
<path d="M1745.6 2405.0L1921.1 2405.0A22 22 0 0 1 1943.1 2427.0L1943.1 2537.0A22 22 0 0 1 1921.1 2559.0L1906.0 2559.0L1838.0 2741.2L1851.8 2559.0L1745.6 2559.0A22 22 0 0 1 1723.6 2537.0L1723.6 2427.0A22 22 0 0 1 1745.6 2405.0Z" fill="#fff" stroke="#a6a6a6" stroke-width="1.7" stroke-linejoin="miter"/>
<text x="1833.3" y="2453.3" font-size="34.2" text-anchor="middle" font-weight="normal">Zn-O</text>
<text x="1833.3" y="2494.6" font-size="34.2" text-anchor="middle" font-weight="normal">stretching</text>
<text x="1833.3" y="2535.3" font-size="34.2" text-anchor="middle" font-weight="normal">vibrations</text>
<path d="M769.6 2770.5L986.0 2770.5A17 17 0 0 1 1003.0 2787.5L1003.0 2860.0A17 17 0 0 1 986.0 2877.0L769.6 2877.0A17 17 0 0 1 752.6 2860.0L752.6 2815.3L720.5 2793.6L752.6 2787.7L752.6 2787.5A17 17 0 0 1 769.6 2770.5Z" fill="#fff" stroke="#a6a6a6" stroke-width="1.7" stroke-linejoin="miter"/>
<text x="877.8" y="2815.3" font-size="34.2" text-anchor="middle" font-weight="normal">C-H stretching</text>
<text x="877.8" y="2856.7" font-size="34.2" text-anchor="middle" font-weight="normal">vibrations</text>
<path d="M580.6 3079.3L959.2 3079.3A17 17 0 0 1 976.2 3096.3L976.2 3171.3A17 17 0 0 1 959.2 3188.3L580.6 3188.3A17 17 0 0 1 563.6 3171.3L563.6 3170.2L505.1 3170.2L563.6 3142.3L563.6 3096.3A17 17 0 0 1 580.6 3079.3Z" fill="#fff" stroke="#a6a6a6" stroke-width="1.7" stroke-linejoin="miter"/>
<text x="769.9" y="3126.0" font-size="34.2" text-anchor="middle" font-weight="normal">Hydroxyl (-OH) stretching</text>
<text x="769.9" y="3167.1" font-size="34.2" text-anchor="middle" font-weight="normal">vibrations</text>
<path d="M1033.1 3079.6L1182.6 3079.6L1294.7 3014.2L1253.3 3079.6L1283.5 3079.6A17 17 0 0 1 1300.5 3096.6L1300.5 3171.0A17 17 0 0 1 1283.5 3188.0L1033.1 3188.0A17 17 0 0 1 1016.1 3171.0L1016.1 3096.6A17 17 0 0 1 1033.1 3079.6Z" fill="#fff" stroke="#a6a6a6" stroke-width="1.7" stroke-linejoin="miter"/>
<text x="1158.3" y="3126.4" font-size="34.2" text-anchor="middle" font-weight="normal">C=C stretching</text>
<text x="1158.3" y="3167.8" font-size="34.2" text-anchor="middle" font-weight="normal">vibrations</text>
<path d="M1556.3 3096.4L1682.3 3096.4L1675.4 3025.0L1744.3 3096.4L1768.3 3096.4A17 17 0 0 1 1785.3 3113.4L1785.3 3187.2A17 17 0 0 1 1768.3 3204.2L1556.3 3204.2A17 17 0 0 1 1539.3 3187.2L1539.3 3113.4A17 17 0 0 1 1556.3 3096.4Z" fill="#fff" stroke="#a6a6a6" stroke-width="1.7" stroke-linejoin="miter"/>
<text x="1662.3" y="3142.9" font-size="34.2" text-anchor="middle" font-weight="normal">C-H bending</text>
<text x="1662.3" y="3183.6" font-size="34.2" text-anchor="middle" font-weight="normal">vibrations</text>
<text x="433.6" y="1956.5" font-size="43.2" text-anchor="start" font-weight="bold">3400</text>
<text x="649.9" y="1690.7" font-size="43.2" text-anchor="start" font-weight="bold">2927</text>
<text x="818.8" y="1270.0" font-size="43.2" text-anchor="start" font-weight="bold">2601</text>
<text x="1035.5" y="1236.6" font-size="43.2" text-anchor="start" font-weight="bold">2111</text>
<text x="1149.8" y="1336.5" font-size="43.2" text-anchor="start" font-weight="bold">1750</text>
<text x="1176.5" y="1600.4" font-size="43.2" text-anchor="start" font-weight="bold">1733</text>
<text x="1279.1" y="1831.3" font-size="43.2" text-anchor="start" font-weight="bold">1613</text>
<text x="1370.5" y="1670.3" font-size="43.2" text-anchor="start" font-weight="bold">1425</text>
<text x="1523.7" y="1876.3" font-size="43.2" text-anchor="start" font-weight="bold">1077</text>
<text x="1589.2" y="1783.3" font-size="43.2" text-anchor="start" font-weight="bold">1033</text>
<text x="1659.9" y="1592.8" font-size="43.2" text-anchor="start" font-weight="bold">825</text>
<text x="409.3" y="3201.7" font-size="39.2" text-anchor="start" font-weight="bold">3425</text>
<text x="621.7" y="2821.7" font-size="39.2" text-anchor="start" font-weight="bold">2973</text>
<text x="1265.8" y="2992.5" font-size="39.2" text-anchor="start" font-weight="bold">1522</text>
<text x="1383.0" y="2935.0" font-size="39.2" text-anchor="start" font-weight="bold">1425</text>
<text x="1477.9" y="2619.5" font-size="39.2" text-anchor="start" font-weight="bold">1120</text>
<text x="1634.7" y="2999.4" font-size="39.2" text-anchor="start" font-weight="bold">827</text>
<text x="1689.0" y="2935.0" font-size="39.2" text-anchor="start" font-weight="bold">695</text>
<text x="1794.4" y="2984.6" font-size="39.2" text-anchor="start" font-weight="bold">430</text>
<text x="527.3" y="197.2" font-size="43.5" text-anchor="start" font-weight="bold">373 nm</text>
</g></svg>
</body></html>
